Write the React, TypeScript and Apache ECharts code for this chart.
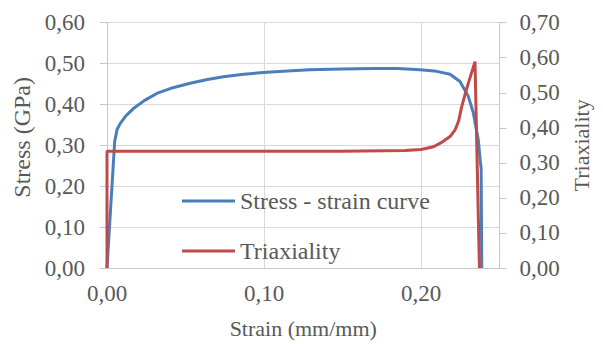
import React, { useEffect, useRef } from "react";
import * as echarts from "echarts";

const stressStrain: [number, number][] = [
  [0, 0], [0.0049, 0.31], [0.0065, 0.34], [0.0087, 0.355], [0.012, 0.372],
  [0.0168, 0.39], [0.024, 0.41], [0.0317, 0.427], [0.042, 0.441], [0.0529, 0.452],
  [0.064, 0.461], [0.0741, 0.468], [0.087, 0.474], [0.0996, 0.478], [0.115, 0.482],
  [0.129, 0.485], [0.15, 0.487], [0.17, 0.488], [0.185, 0.488], [0.1994, 0.485],
  [0.21, 0.481], [0.2185, 0.474], [0.2248, 0.456], [0.23, 0.421], [0.2333, 0.38],
  [0.2365, 0.313], [0.2378, 0.26], [0.2383, 0.244], [0.2387, 0],
];

const triaxiality: [number, number][] = [
  [0, 0], [0, 0.333], [0.05, 0.333], [0.1, 0.333], [0.15, 0.333], [0.19, 0.335],
  [0.2, 0.338], [0.208, 0.346], [0.2137, 0.36], [0.2185, 0.375], [0.2217, 0.394],
  [0.224, 0.42], [0.2259, 0.46], [0.228, 0.495], [0.2301, 0.527], [0.2344, 0.589],
  [0.2372, 0],
];

const seriesNames = ["Stress - strain curve", "Triaxiality"];
const xName = "Strain (mm/mm)";
const yLeftName = "Stress (GPa)";
const yRightName = "Triaxiality";

const FONT = "'Liberation Serif', 'Times New Roman', serif";
const TXT = "#595959";
const GRID = "#d9d9d9";
const AXIS = "#c8c8c8";

const fmt = (v: number) => v.toFixed(2).replace(".", ",");

export default function App() {
  const ref = useRef<HTMLDivElement>(null);
  useEffect(() => {
    if (!ref.current) return;
    const chart = echarts.init(ref.current, undefined, { renderer: "svg" });
    const labelStyle = { fontFamily: FONT, fontSize: 23, color: TXT };
    const nameStyle = { fontFamily: FONT, color: TXT };
    chart.setOption({
      animation: false,
      backgroundColor: "#ffffff",
      textStyle: { fontFamily: FONT },
      grid: { left: 107, right: 103.5, top: 22.7, bottom: 76 },
      legend: {
        orient: "vertical",
        left: 182,
        top: 189,
        padding: 0,
        icon: "rect",
        itemWidth: 53,
        itemHeight: 3,
        itemGap: 26,
        textStyle: { fontFamily: FONT, fontSize: 24, color: TXT },
        data: seriesNames,
      },
      xAxis: {
        type: "value",
        min: 0,
        max: 0.25,
        interval: 0.1,
        name: xName,
        nameLocation: "middle",
        nameGap: 49,
        nameTextStyle: { ...nameStyle, fontSize: 22 },
        axisLine: { show: true, lineStyle: { color: AXIS, width: 1 } },
        axisTick: { show: false },
        axisLabel: {
          ...labelStyle,
          margin: 14,
          formatter: (v: number) => (Math.abs(v - 0.25) < 1e-9 ? "" : fmt(v)),
        },
        splitLine: { show: true, lineStyle: { color: GRID, width: 1 } },
      },
      yAxis: [
        {
          type: "value",
          position: "left",
          min: 0,
          max: 0.6,
          interval: 0.1,
          name: yLeftName,
          nameLocation: "middle",
          nameRotate: 90,
          nameGap: 72,
          nameTextStyle: { ...nameStyle, fontSize: 24, padding: [0, 0, 0, 16] },
          axisLine: { show: true, lineStyle: { color: AXIS, width: 1 } },
          axisTick: { show: true, inside: false, length: 7, lineStyle: { color: AXIS } },
          axisLabel: { ...labelStyle, margin: 22, formatter: fmt },
          splitLine: { show: true, lineStyle: { color: GRID, width: 1 } },
        },
        {
          type: "value",
          position: "right",
          min: 0,
          max: 0.7,
          interval: 0.1,
          name: yRightName,
          nameLocation: "middle",
          nameRotate: 90,
          nameGap: 71,
          nameTextStyle: { ...nameStyle, fontSize: 22 },
          axisLine: { show: true, lineStyle: { color: AXIS, width: 1 } },
          axisTick: { show: true, inside: false, length: 7, lineStyle: { color: AXIS } },
          axisLabel: { ...labelStyle, margin: 20, formatter: fmt },
          splitLine: { show: false },
        },
      ],
      series: [
        {
          name: seriesNames[0],
          type: "line",
          yAxisIndex: 0,
          data: stressStrain,
          symbol: "none",
          smooth: false,
          lineStyle: { color: "#4a7ebb", width: 3 },
          itemStyle: { color: "#4a7ebb" },
        },
        {
          name: seriesNames[1],
          type: "line",
          yAxisIndex: 1,
          data: triaxiality,
          symbol: "none",
          smooth: false,
          lineStyle: { color: "#be4b48", width: 3 },
          itemStyle: { color: "#be4b48" },
        },
      ],
    });
    return () => chart.dispose();
  }, []);
  return (
    <div
      ref={ref}
      style={{ position: "fixed", left: 0, top: 0, width: 603, height: 344 }}
    />
  );
}
